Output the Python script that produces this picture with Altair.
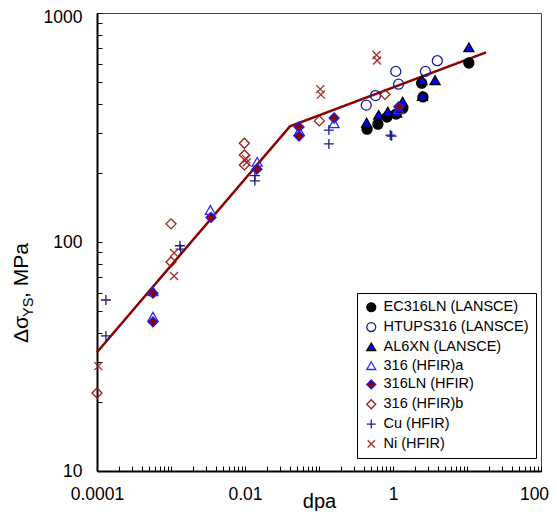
import altair as alt
import pandas as pd

series_names = ["EC316LN (LANSCE)", "HTUPS316 (LANSCE)", "AL6XN (LANSCE)", "316 (HFIR)a",
                "316LN (HFIR)", "316 (HFIR)b", "Cu (HFIR)", "Ni (HFIR)"]

ec_x = [0.446, 0.626, 0.83, 1.1, 1.36, 2.44, 2.54, 10.6]
ec_y = [311, 327, 351, 362, 384, 494, 430, 605]
ht_x = [0.435, 0.58, 1.09, 1.19, 2.74, 3.97]
ht_y = [396, 436, 556, 489, 556, 619]
al_x = [0.44, 0.64, 0.85, 1.12, 1.35, 2.47, 3.7, 2.5, 10.6]
al_y = [332, 359, 371, 367, 410, 509, 509, 434, 708]
a316_x = [5.7e-4, 5.7e-4, 0.0034, 0.0146, 0.054, 0.16, 1.2]
a316_y = [61, 47.2, 138, 224, 305, 330, 380]
ln_x = [5.7e-4, 5.7e-4, 0.00347, 0.0145, 0.0537, 0.0537, 0.16, 1.2]
ln_y = [59.8, 44.8, 128, 208, 318, 290, 348, 390]
b316_x = [1e-4, 0.001, 0.001, 0.0098, 0.0098, 0.0098, 0.101, 0.78]
b316_y = [21.9, 120, 81.8, 270, 240, 217, 338, 441]
cu_x = [1.32e-4, 1.32e-4, 0.00132, 0.00135, 0.0136, 0.0136, 0.136, 0.136, 0.92, 0.96]
cu_y = [55.8, 38.9, 96.3, 93, 195, 185, 308, 268, 293, 290]
ni_x = [1.04e-4, 0.0011, 0.0011, 0.0106, 0.0104, 0.106, 0.104, 0.61, 0.60]
ni_y = [28.7, 71.1, 89.6, 223, 230, 440, 465, 620, 655]

fit_x = [1e-4, 0.0405, 18.1]
fit_y = [33, 320, 673]

shapes = ["circle", "circle", "triangle-up", "triangle-up", "diamond", "diamond",
          "M-1,0L1,0M0,-1L0,1", "M-0.8,-0.8L0.8,0.8M-0.8,0.8L0.8,-0.8"]
fills = ["black", "transparent", "#0000ff", "transparent", "#8b0000", "transparent",
         "transparent", "transparent"]
strokes = ["black", "#1c1c9c", "black", "#2a2aff", "#1a1aff", "#9b1b1b", "#1c1c8c", "#a52a2a"]

x_ticks = [float(f"{m}e{e}") for e in range(-4, 2) for m in range(1, 10)] + [100.0]
y_ticks = [float(f"{m}e{e}") for e in range(1, 3) for m in range(1, 10)] + [1000.0]

groups = [(ec_x, ec_y), (ht_x, ht_y), (al_x, al_y), (a316_x, a316_y),
          (ln_x, ln_y), (b316_x, b316_y), (cu_x, cu_y), (ni_x, ni_y)]
rows = []
for i, (name, (xs, ys)) in enumerate(zip(series_names, groups)):
    for xv, yv in zip(xs, ys):
        rows.append({"x": xv, "y": yv, "series": name, "idx": i})
df = pd.DataFrame(rows)
fit_df = pd.DataFrame({"x": fit_x, "y": fit_y})

FONT = "Liberation Sans"
xscale = alt.Scale(type="log", domain=[1e-4, 100])
yscale = alt.Scale(type="log", domain=[10, 1000])

# main axes: domain, labels, title (no ticks)
xaxis = alt.Axis(values=x_ticks, title="dpa", grid=False, ticks=False, orient="bottom",
                 labelExpr="datum.value === 0.0001 ? '0.0001' : datum.value === 0.01 ? '0.01' : datum.value === 1 ? '1' : datum.value === 100 ? '100' : ''",
                 labelOffset={"condition": {"test": "datum.value === 100", "value": -7}, "value": 0},
                 labelOverlap=False, labelFlush=False, labelPadding=14, labelFontSize=17.5,
                 labelFont=FONT, labelColor="black", titleFont=FONT, titleFontSize=20,
                 titleFontWeight="normal", titleColor="black", titlePadding=5,
                 titleBaseline="alphabetic",
                 domainColor="black", domainWidth=2)
yaxis = alt.Axis(values=y_ticks, title=None, grid=False, ticks=False, orient="left",
                 labelExpr="datum.value === 10 ? '10' : datum.value === 100 ? '100' : datum.value === 1000 ? '1000' : ''",
                 labelOverlap=False, labelFlush=False, labelPadding=15, labelFontSize=17.5,
                 labelOffset={"condition": {"test": "datum.value === 1000", "value": 4}, "value": 0},
                 labelFont=FONT, labelColor="black", domainColor="black", domainWidth=2)
# inward tick-only axes
xticks_axis = alt.Axis(values=x_ticks, title=None, grid=False, labels=False, domain=False,
                       orient="bottom", ticks=True, tickSize=5, offset=-5, tickColor="black",
                       tickWidth=1)
yticks_axis = alt.Axis(values=y_ticks, title=None, grid=False, labels=False, domain=False,
                       orient="left", ticks=True, tickSize=5, offset=-5, tickColor="black",
                       tickWidth=1)

leg = alt.Legend(title=None, orient="none", legendX=260, legendY=280, fillColor="white",
                 strokeColor="black", padding=7, labelFont=FONT, labelFontSize=14.5,
                 labelColor="black", symbolSize=80, rowPadding=3.8, labelOffset=5,
                 symbolStrokeWidth=1.3, labelLimit=300)

line = alt.Chart(fit_df).mark_line(color="#8b0000", strokeWidth=2.5).encode(
    x=alt.X("x:Q", scale=xscale, axis=xaxis),
    y=alt.Y("y:Q", scale=yscale, axis=yaxis),
)

points = alt.Chart(df).mark_point(size=100, strokeWidth=1.3, opacity=1).encode(
    x=alt.X("x:Q", scale=xscale, axis=xticks_axis),
    y=alt.Y("y:Q", scale=yscale, axis=yticks_axis),
    shape=alt.Shape("series:N", scale=alt.Scale(domain=series_names, range=shapes), legend=leg),
    stroke=alt.Stroke("series:N", scale=alt.Scale(domain=series_names, range=strokes), legend=leg),
    fill=alt.Fill("series:N", scale=alt.Scale(domain=series_names, range=fills), legend=leg),
    order=alt.Order("idx:Q"),
)

one = pd.DataFrame({"k": [0]})
t1 = alt.Chart(one).mark_text(angle=270, align="left", baseline="alphabetic", fontSize=21,
                              font=FONT, color="black").encode(
    x=alt.value(-69), y=alt.value(330), text=alt.value("Δσ"))
t2 = alt.Chart(one).mark_text(angle=270, align="left", baseline="alphabetic", fontSize=14.5,
                              font=FONT, color="black").encode(
    x=alt.value(-64), y=alt.value(304), text=alt.value("YS"))
t3 = alt.Chart(one).mark_text(angle=270, align="left", baseline="alphabetic", fontSize=21,
                              font=FONT, color="black").encode(
    x=alt.value(-69), y=alt.value(285), text=alt.value(", MPa"))

chart = alt.layer(line, points, t1, t2, t3).resolve_axis(
    x="independent", y="independent"
).properties(
    width=444, height=458,
    autosize=alt.AutoSizeParams(type="none"),
    padding={"left": 89, "top": 5, "right": 8, "bottom": 40},
).configure_view(stroke="#444", strokeWidth=1)

chart.save("out.html", embed_options={"renderer": "svg", "actions": False})
